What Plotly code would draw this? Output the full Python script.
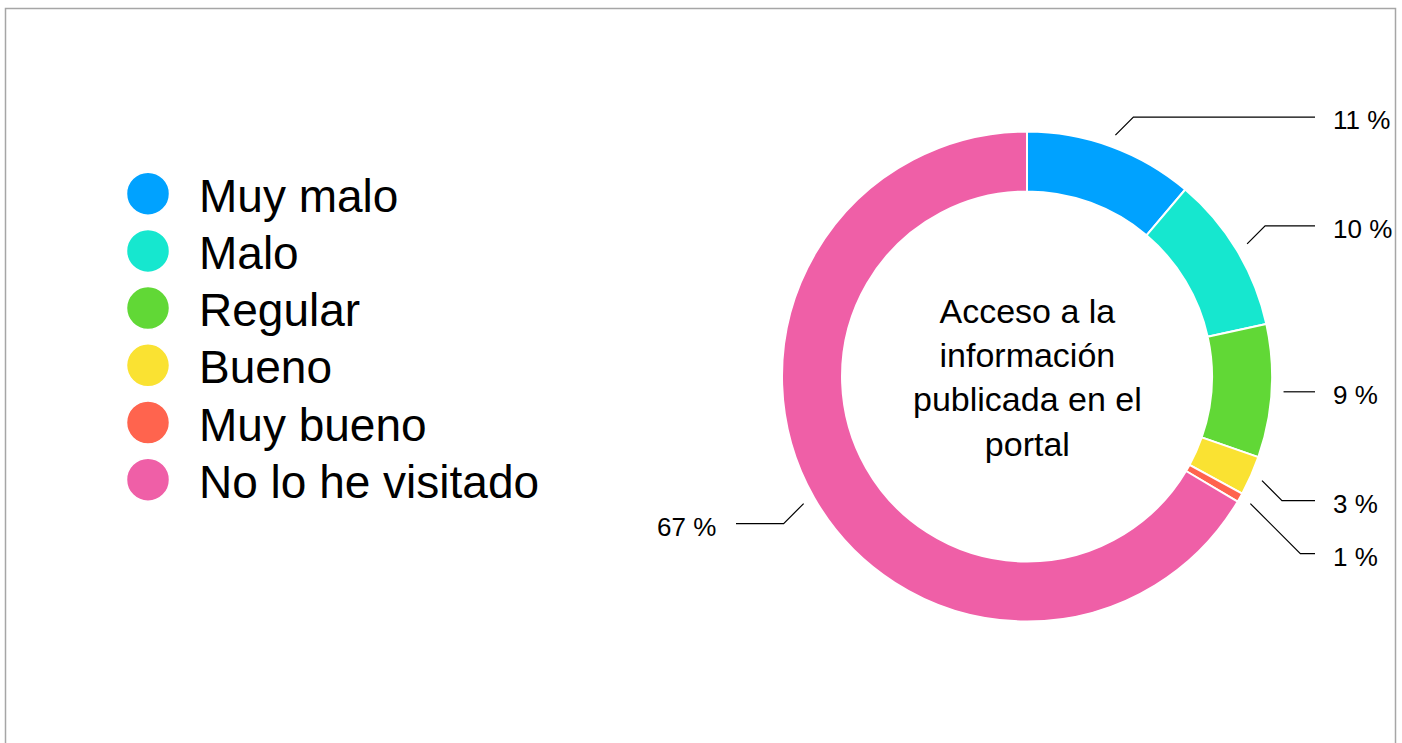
"""Donut 'Acceso a la información publicada en el portal' con etiquetas guía."""

import math

import plotly.graph_objects as go

W, H = 1402, 743
_FONT = "Liberation Sans, Arial, Helvetica, sans-serif"

categories = ["Muy malo", "Malo", "Regular", "Bueno", "Muy bueno", "No lo he visitado"]
values = [11.2, 10.4, 8.8, 2.6, 0.6, 66.6]
colors = ["#00A2FF", "#16E7CF", "#61D836", "#FAE232", "#FF644E", "#EF5FA7"]
center_title = "Acceso a la<br>información<br>publicada en el<br>portal"

# geometría del donut (px)
CX, CY, R = 1027, 376.5, 245
HOLE = 0.755


def px(x, y):
    return x / W, 1 - y / H


fig = go.Figure()

x0, y1 = px(CX - R, CY - R)
x1, y0 = px(CX + R, CY + R)
fig.add_trace(
    go.Pie(
        labels=categories,
        values=values,
        hole=HOLE,
        sort=False,
        direction="clockwise",
        rotation=0,
        marker=dict(colors=colors, line=dict(color="white", width=2)),
        textinfo="none",
        showlegend=False,
        domain=dict(x=[x0, x1], y=[y0, y1]),
        hoverinfo="label+percent",
    )
)

# líneas guía y etiquetas de porcentaje
total = sum(values)
cum = 0.0
line_x, line_y = [], []
annotations = []
prev_right = -1e9
for v in values:
    theta = math.radians((cum + v / 2) / total * 360)
    cum += v
    sx = CX + (R + 12) * math.sin(theta)
    sy = CY - (R + 12) * math.cos(theta)
    c = math.cos(theta)
    dy = 0 if abs(c) < 0.2 else (-18 if c > 0 else 20)
    ly = sy + dy
    right = math.sin(theta) >= 0
    if right:
        if ly < prev_right + 53:
            ly = prev_right + 53
        prev_right = ly
    side = 1 if right else -1
    ex = sx + side * abs(ly - sy)
    end_x = 1315 if right else 736
    line_x += [sx, ex, end_x, None]
    line_y += [sy, ly, ly, None]
    annotations.append(
        dict(
            x=1331 if right else 718,
            y=ly,
            xref="x",
            yref="y",
            yshift=-3,
            text=f"{round(v)} %",
            showarrow=False,
            xanchor="left" if right else "right",
            yanchor="middle",
            font=dict(family=_FONT, size=26, color="#000000"),
        )
    )

fig.add_trace(
    go.Scatter(
        x=line_x,
        y=line_y,
        mode="lines",
        line=dict(color="#000000", width=1.2),
        hoverinfo="skip",
        showlegend=False,
    )
)

# leyenda manual con círculos grandes
leg_y = [193.7 + 57.2 * i for i in range(len(categories))]
fig.add_trace(
    go.Scatter(
        x=[148] * len(categories),
        y=leg_y,
        mode="markers",
        marker=dict(size=43, color=colors, line=dict(color="white", width=1.5)),
        hovertext=categories,
        hoverinfo="text",
        showlegend=False,
    )
)
for name, y in zip(categories, leg_y):
    annotations.append(
        dict(
            x=197,
            y=y + 2,
            xref="x",
            yref="y",
            text=name,
            showarrow=False,
            xanchor="left",
            yanchor="middle",
            font=dict(family=_FONT, size=46, color="#000000"),
        )
    )

annotations.append(
    dict(
        x=CX,
        y=CY + 1,
        xref="x",
        yref="y",
        text=center_title,
        showarrow=False,
        xanchor="center",
        yanchor="middle",
        align="center",
        font=dict(family=_FONT, size=34, color="#000000"),
    )
)

fig.update_layout(
    width=W,
    height=H,
    margin=dict(l=0, r=0, t=0, b=0),
    paper_bgcolor="white",
    plot_bgcolor="white",
    xaxis=dict(range=[0, W], visible=False, fixedrange=True),
    yaxis=dict(range=[H, 0], visible=False, fixedrange=True),
    annotations=annotations,
    shapes=[
        dict(
            type="rect",
            xref="x",
            yref="y",
            x0=5.5,
            x1=1395.5,
            y0=8.5,
            y1=H + 20,
            line=dict(color="#a6a6a6", width=1.5),
            layer="below",
        )
    ],
    showlegend=False,
)

fig.write_html(
    "out.html",
    config={"displayModeBar": False},
    post_script="document.body.style.margin='0';document.body.style.overflow='hidden';",
)
